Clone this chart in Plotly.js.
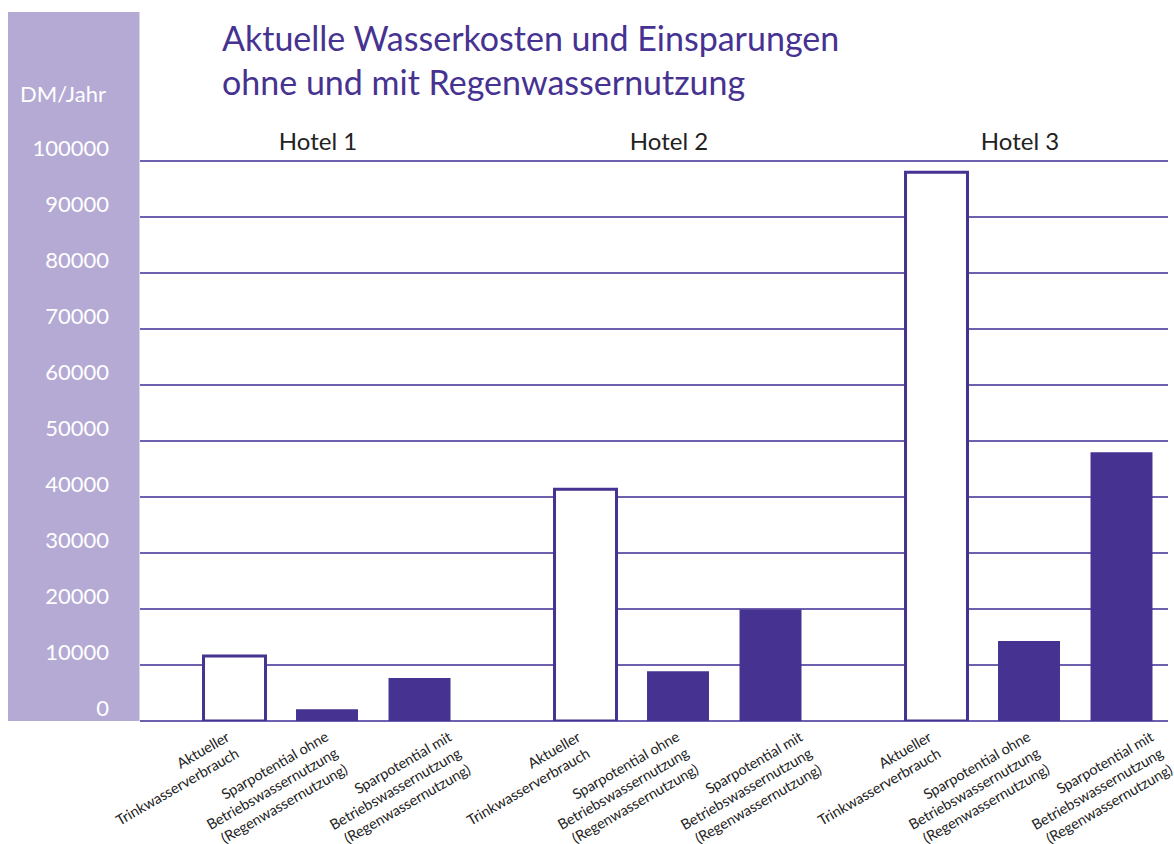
<!DOCTYPE html>
<html><head><meta charset="utf-8">
<script src="https://cdn.plot.ly/plotly-3.0.1.min.js"></script>
<style>html,body{margin:0;padding:0;background:#fff}</style>
</head><body><div id="chart" style="width:1174px;height:844px"></div>
<script>
// ---- data ----
const hotels = ['Hotel 1', 'Hotel 2', 'Hotel 3'];
const measures = [
  'Aktueller<br>Trinkwasserverbrauch',
  'Sparpotential ohne<br>Betriebswassernutzung<br>(Regenwassernutzung)',
  'Sparpotential mit<br>Betriebswassernutzung<br>(Regenwassernutzung)'
];
const aktuell = [11600, 41400, 98000];
const ohne = [2100, 8900, 14300];
const mit = [7700, 19900, 48000];
const yTickVals = [0, 10000, 20000, 30000, 40000, 50000, 60000, 70000, 80000, 90000, 100000];
const yTickText = ['0', '10000', '20000', '30000', '40000', '50000', '60000', '70000', '80000', '90000', '100000'];
const yUnit = 'DM/Jahr';
const titleText = 'Aktuelle Wasserkosten und Einsparungen<br>ohne und mit Regenwassernutzung';

// ---- style ----
const PURPLE = '#463291';
const SIDEBAR = '#b4aad4';
const GRID = '#6e60ae';
const FONT = 'Lato, "Open Sans", sans-serif';
const bargap = 0.2094;
const slot = (1 - bargap) / measures.length;
const xRange = [-0.5328, 2.396];
const plotW = 1028;
const pxPerUnit = plotW / (xRange[1] - xRange[0]);
const labelShiftPx = [-10, -4, 27]; // horizontal nudge of the rotated bar labels
const labelFont = 14.5;
const labelAngle = 30;

const series = [aktuell, ohne, mit];
const traces = series.map((vals, i) => ({
  type: 'bar',
  x: hotels,
  y: vals,
  name: measures[i],
  marker: i === 0
    ? {color: '#ffffff', line: {color: PURPLE, width: 3}}
    : {color: PURPLE, line: {width: 0}},
  hoverinfo: 'y'
}));

const annotations = [{
  text: yUnit, xref: 'paper', yref: 'paper', showarrow: false,
  x: (108 - 140) / 1028, xanchor: 'right', y: (721 - 93) / 561, yanchor: 'middle',
  font: {family: FONT, size: 22, color: '#ffffff'}
}];
hotels.forEach((h, hi) => {
  measures.forEach((m, mi) => {
    const nLines = m.split('<br>').length;
    const boxH = nLines * 1.3 * labelFont + 4;
    const offsetPx = (mi - (measures.length - 1) / 2) * slot * pxPerUnit;
    annotations.push({
      text: m, xref: 'x', yref: 'y', x: h, y: 0, showarrow: false,
      textangle: -labelAngle, align: 'right', xanchor: 'right', yanchor: 'top',
      xshift: offsetPx + labelShiftPx[mi] + boxH * Math.sin(labelAngle * Math.PI / 180),
      yshift: -4,
      font: {family: FONT, size: labelFont, color: '#222'}
    });
  });
});

const layout = {
  width: 1174, height: 844,
  margin: {l: 140, r: 6, t: 160, b: 123},
  paper_bgcolor: '#ffffff', plot_bgcolor: 'rgba(0,0,0,0)',
  showlegend: false,
  barmode: 'group', bargap: bargap, bargroupgap: 0.33,
  font: {family: FONT, color: '#222'},
  title: {
    text: titleText,
    font: {family: FONT, size: 34, color: PURPLE},
    xref: 'container', yref: 'container',
    x: 222 / 1174, xanchor: 'left',
    y: 1 - 51 / 844, yanchor: 'middle'
  },
  xaxis: {
    type: 'category', side: 'top', range: xRange,
    showgrid: false, zeroline: false, showline: false, ticks: '',
    tickfont: {family: FONT, size: 24, color: '#222'},
    ticklabelstandoff: 4, ticklabelshift: -9, fixedrange: true
  },
  yaxis: {
    range: [0, 100180], tickmode: 'array', tickvals: yTickVals, ticktext: yTickText,
    showgrid: true, gridcolor: GRID, gridwidth: 1.6,
    zeroline: true, zerolinecolor: GRID, zerolinewidth: 1.6,
    showline: false, ticks: '',
    tickfont: {family: FONT, size: 22, color: '#ffffff'},
    ticklabelstandoff: 30, ticklabelshift: -13, fixedrange: true
  },
  shapes: [{
    type: 'rect', xref: 'paper', yref: 'paper', layer: 'below',
    x0: (8 - 140) / 1028, x1: -0.0005, y0: 0, y1: (721 - 12) / 561,
    fillcolor: SIDEBAR, line: {width: 0}
  }],
  annotations: annotations
};

Plotly.newPlot('chart', traces, layout, {displayModeBar: false, staticPlot: true});
</script>
</body></html>
